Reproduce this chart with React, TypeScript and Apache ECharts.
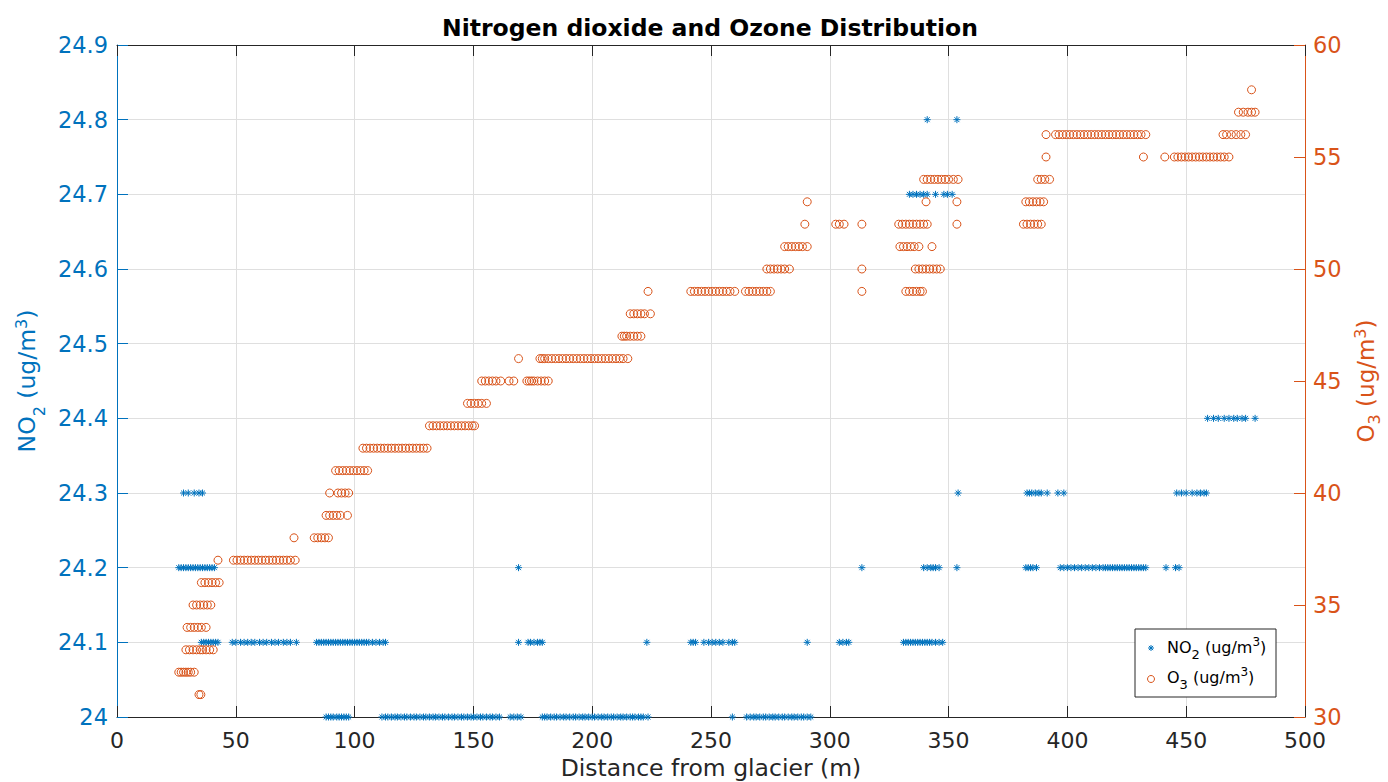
import React, { useEffect, useRef } from 'react';
import * as echarts from 'echarts';

// ---------- DATA (distance in m for each measured level) ----------
const no2At240 = [88, 89, 90, 91, 92.5, 93.5, 94.5, 95.5, 96.5, 97.5, 111.5, 113, 114, 115.5, 117, 118, 119.5, 121, 122, 123.5, 125, 126, 127.5, 129, 130, 131.5, 133, 134, 135.5, 137, 138, 139.5, 141, 142, 143.5, 145, 146, 147.5, 149, 150, 151.5, 153, 154, 155.5, 157, 158, 159.5, 161, 165.5, 167, 168.5, 170, 179, 180, 181, 182.5, 184, 185, 186.5, 188, 189, 190.5, 192, 193, 194.5, 196, 197, 198.5, 200, 201, 202.5, 204, 205, 206.5, 208, 209, 210.5, 212, 213, 214.5, 216, 217, 218, 219.5, 220.5, 221.5, 223.5, 259, 265, 266.5, 268, 269, 270.5, 272, 273, 274.5, 276, 277, 278.5, 280, 281, 282.5, 284, 285, 286.5, 288, 289, 290.5, 292];
const no2At241 = [35.5, 36.5, 37.5, 38.5, 39.5, 40.5, 41.5, 42.5, 48.5, 50, 52, 53.5, 55, 56.5, 58, 60, 61.5, 63, 65, 66.5, 68, 70, 71.5, 73, 75.5, 84, 85, 86, 87, 88, 89, 90, 91, 92, 93, 94, 95, 96, 97, 98, 99, 100, 101, 102, 103, 104, 105, 106, 107.5, 109, 110.5, 112, 113, 169, 173, 174, 175.5, 177, 178, 179, 223, 241.5, 242.5, 243.5, 247, 249, 250.5, 252, 253.5, 255, 257.5, 259, 260, 290.5, 304, 305.5, 307, 308, 331, 332, 333, 334, 335, 336, 337, 338, 339, 340, 341, 342, 343, 344.5, 346, 347.5];
const no2At242 = [26, 27, 28, 29, 30, 31, 32, 33, 34, 35, 36, 37, 38, 39, 40, 41, 169, 313.5, 339.5, 341, 342.5, 343.5, 344.5, 346, 353.5, 382.5, 383.5, 384.5, 385.5, 387, 397, 398.5, 400, 401.5, 403, 404.5, 406, 407.5, 409, 410.5, 412, 413.5, 415, 416, 417, 418, 419, 420, 421, 422, 423, 424, 425, 426, 427, 428, 429, 430, 431, 432, 433, 441.5, 445.5, 447];
const no2At243 = [28, 30, 32.5, 34.5, 36, 354, 383, 384, 385, 386.5, 388, 389, 391.5, 396, 398.5, 446, 448, 450, 452.5, 454.5, 456, 457.5, 458.5];
const no2At244 = [459, 461.5, 463.5, 466, 468, 470, 471.5, 473.5, 475, 479];
const no2At247 = [333.5, 335, 336.5, 338, 339.5, 341, 344.5, 348, 349.5, 351.5];
const no2At248 = [341, 353.5];

const o3At31 = [34.5, 35.3];
const o3At32 = [26, 27, 28, 29, 30, 31, 32.5];
const o3At33 = [29, 30.5, 32, 33.5, 35, 36, 37.5, 39, 40.5];
const o3At34 = [29.5, 31, 32.5, 34, 35.5, 37.5];
const o3At35 = [32, 33.5, 35, 36.5, 38, 39.5];
const o3At36 = [35.5, 37, 38.5, 40, 41.5, 43];
const o3At37 = [42.5, 49, 50.5, 52, 53.5, 55, 56.5, 58, 59.5, 61, 62.5, 64, 65.5, 67, 68.5, 70, 71.5, 73, 75];
const o3At38 = [74.5, 83, 84.5, 86, 87.5, 89];
const o3At39 = [88, 89.5, 91, 92.5, 94, 97];
const o3At40 = [89.5, 93, 94.5, 96, 97.5];
const o3At41 = [92, 93.5, 95, 96.5, 98, 99.5, 101, 102.5, 104, 105.5];
const o3At42 = [103.5, 105, 106.5, 108, 109.5, 111, 112.5, 114, 115.5, 117, 118.5, 120, 121.5, 123, 124.5, 126, 127.5, 129, 130.5];
const o3At43 = [131.5, 133, 134.5, 136, 137.5, 139, 140.5, 142, 143.5, 145, 146.5, 148, 149.5, 150.5];
const o3At44 = [147.5, 149, 150.5, 152, 153.5, 155.5];
const o3At45 = [153.5, 155, 156.5, 158, 159.5, 161.5, 165, 167, 172.5, 173.5, 174.5, 175.5, 177, 178.5, 180, 181.5];
const o3At46 = [169, 178, 179, 180, 181.5, 183, 184.5, 186, 187.5, 189, 190.5, 192, 193.5, 195, 196.5, 198, 199.5, 201, 202.5, 204, 205.5, 207, 208.5, 210, 211.5, 213, 215];
const o3At47 = [212.5, 213.5, 214.5, 216, 217.5, 219, 220.5];
const o3At48 = [216, 217.5, 219, 220.5, 222, 224.5];
const o3At49 = [223.5, 241.5, 243, 244.5, 246, 247.5, 249, 250.5, 252, 253.5, 255, 256.5, 258, 260, 264.5, 266, 267.5, 269, 270.5, 272, 273.5, 275, 313.5, 332, 333.5, 335, 336.5, 338, 339];
const o3At50 = [273.5, 275, 276.5, 278, 279.5, 281, 283, 313.5, 336, 337.5, 339, 340.5, 342, 343.5, 345, 346.5];
const o3At51 = [281, 282.5, 284, 285.5, 287, 288.5, 290.5, 329.5, 331, 332.5, 334, 335.5, 337.5, 343];
const o3At52 = [289.5, 302.5, 304, 306, 313.5, 329, 330.5, 332, 333.5, 335, 336.5, 338, 339.5, 341, 353.5, 381.5, 383, 384.5, 386, 387.5, 389];
const o3At53 = [290.5, 340.5, 353.5, 382.5, 384, 385.5, 387, 388.5, 390];
const o3At54 = [339.5, 341, 342.5, 344, 345.5, 347, 348.5, 350, 352, 354, 387.5, 389, 390.5, 392.5];
const o3At55 = [391, 432, 441, 445, 446.5, 448, 449.5, 451, 452.5, 454, 455.5, 457, 458.5, 460, 461.5, 463, 464.5, 466, 468];
const o3At56 = [391, 395, 396.5, 398, 399.5, 401, 402.5, 404, 405.5, 407, 408.5, 410, 411.5, 413, 414.5, 416, 417.5, 419, 420.5, 422, 423.5, 425, 426.5, 428, 429.5, 431, 433, 465.5, 467, 469, 471, 473, 475];
const o3At57 = [472, 474, 476, 477.5, 479];
const o3At58 = [477.5];

const no2Rows: [number, number[]][] = [
  [24.0, no2At240], [24.1, no2At241], [24.2, no2At242], [24.3, no2At243],
  [24.4, no2At244], [24.7, no2At247], [24.8, no2At248],
];
const o3Rows: [number, number[]][] = [
  [31, o3At31], [32, o3At32], [33, o3At33], [34, o3At34], [35, o3At35], [36, o3At36],
  [37, o3At37], [38, o3At38], [39, o3At39], [40, o3At40], [41, o3At41], [42, o3At42],
  [43, o3At43], [44, o3At44], [45, o3At45], [46, o3At46], [47, o3At47], [48, o3At48],
  [49, o3At49], [50, o3At50], [51, o3At51], [52, o3At52], [53, o3At53], [54, o3At54],
  [55, o3At55], [56, o3At56], [57, o3At57], [58, o3At58],
];

// ---------- STYLE ----------
const BLUE = '#0072BD';
const ORANGE = '#D95319';
const DARK = '#262626';
const GRID = '#dfdfdf';
const FONT = 'DejaVu Sans';
const ASTERISK = 'path://M5 0 L5 10 M0 5 L10 5 M1.5 1.5 L8.5 8.5 M1.5 8.5 L8.5 1.5';

function toPoints(rows: [number, number[]][]) {
  const out: number[][] = [];
  rows.forEach(([level, xs]) => xs.forEach((x) => out.push([x, level])));
  return out;
}

function nameRich(color: string, size: number, subPad: number) {
  return {
    m: { fontSize: size, fontFamily: FONT, color, verticalAlign: 'middle' },
    sub: { fontSize: 16, fontFamily: FONT, color, verticalAlign: 'middle', padding: [subPad, 0, 0, 0] },
    sup: { fontSize: 16, fontFamily: FONT, color, verticalAlign: 'middle', padding: [0, 0, 11, 0] },
  };
}

function legendRich() {
  return {
    m: { fontSize: 16, fontFamily: FONT, color: '#000', verticalAlign: 'middle' },
    sub: { fontSize: 13, fontFamily: FONT, color: '#000', verticalAlign: 'middle', padding: [14, 0, 0, 0] },
    sup: { fontSize: 12, fontFamily: FONT, color: '#000', verticalAlign: 'middle', padding: [0, 0, 10, 0] },
  };
}

export default function App() {
  const ref = useRef<HTMLDivElement>(null);
  useEffect(() => {
    if (!ref.current) return;
    document.body.style.margin = '0';
    const chart = echarts.init(ref.current, undefined, { renderer: 'svg' });
    const lx = 1135, ly = 629;
    const ast = (cx: number, cy: number, r: number) => [
      [cx - r, cy, cx + r, cy], [cx, cy - r, cx, cy + r],
      [cx - r * 0.7, cy - r * 0.7, cx + r * 0.7, cy + r * 0.7],
      [cx - r * 0.7, cy + r * 0.7, cx + r * 0.7, cy - r * 0.7],
    ].map((s) => ({ type: 'line', z: 102, shape: { x1: s[0], y1: s[1], x2: s[2], y2: s[3] }, style: { stroke: BLUE, lineWidth: 1 } }));

    chart.setOption({
      animation: false,
      backgroundColor: '#fff',
      grid: { left: 117, right: 83, top: 45, bottom: 65, containLabel: false, outerBoundsMode: 'none' },
      xAxis: [
        {
          type: 'value', min: 0, max: 500, interval: 50, position: 'bottom',
          axisLine: { show: true, onZero: false, lineStyle: { color: DARK, width: 1 } },
          axisTick: { show: true, inside: true, length: 11, lineStyle: { color: DARK } },
          axisLabel: { color: DARK, fontSize: 22, fontFamily: FONT, margin: 12 },
          splitLine: { show: true, lineStyle: { color: GRID, width: 1 } },
          name: 'Distance from glacier (m)', nameLocation: 'middle', nameGap: 38,
          nameTextStyle: { color: DARK, fontSize: 23.5, fontFamily: FONT },
        },
        {
          type: 'value', min: 0, max: 500, interval: 50, position: 'top',
          axisLine: { show: true, onZero: false, lineStyle: { color: DARK, width: 1 } },
          axisTick: { show: true, inside: true, length: 11, lineStyle: { color: DARK } },
          axisLabel: { show: false }, splitLine: { show: false },
        },
      ],
      yAxis: [
        {
          type: 'value', min: 24, max: 24.9, interval: 0.1, position: 'left',
          axisLine: { show: true, onZero: false, lineStyle: { color: BLUE, width: 1 } },
          axisTick: { show: true, inside: true, length: 11, lineStyle: { color: BLUE } },
          axisLabel: { color: BLUE, fontSize: 22.5, fontFamily: FONT, margin: 9 },
          splitLine: { show: true, lineStyle: { color: GRID, width: 1 } },
          name: '{m|NO}{sub|2}{m| (ug/m}{sup|3}{m|)}', nameLocation: 'middle', nameRotate: 90, nameGap: 70,
          nameTextStyle: { color: BLUE, fontSize: 23.5, fontFamily: FONT, rich: nameRich(BLUE, 23.5, 24) },
        },
        {
          type: 'value', min: 30, max: 60, interval: 5, position: 'right',
          axisLine: { show: true, onZero: false, lineStyle: { color: ORANGE, width: 1 } },
          axisTick: { show: true, inside: true, length: 11, lineStyle: { color: ORANGE } },
          axisLabel: { color: ORANGE, fontSize: 22.5, fontFamily: FONT, margin: 8 },
          splitLine: { show: false },
          name: '{m|O}{sub|3}{m| (ug/m}{sup|3}{m|)}', nameLocation: 'middle', nameRotate: 90, nameGap: 45,
          nameTextStyle: { color: ORANGE, fontSize: 23, fontFamily: FONT, rich: nameRich(ORANGE, 23, 16) },
        },
      ],
      series: [
        {
          type: 'scatter', name: 'NO2', xAxisIndex: 0, yAxisIndex: 0, data: toPoints(no2Rows),
          symbol: ASTERISK, symbolSize: 7, silent: true,
          itemStyle: { color: 'rgba(0,0,0,0)', borderColor: BLUE, borderWidth: 1, opacity: 1 },
        },
        {
          type: 'scatter', name: 'O3', xAxisIndex: 0, yAxisIndex: 1, data: toPoints(o3Rows),
          symbol: 'circle', symbolSize: 8, silent: true,
          itemStyle: { color: 'rgba(0,0,0,0)', borderColor: ORANGE, borderWidth: 1, opacity: 1 },
        },
      ],
      graphic: [
        {
          type: 'text', x: 710, y: 28,
          style: { text: 'Nitrogen dioxide and Ozone Distribution', fill: '#000', fontSize: 23.5, fontWeight: 'bold', fontFamily: FONT, align: 'center', verticalAlign: 'middle' },
        },
        {
          type: 'rect', shape: { x: lx, y: ly, width: 141, height: 68 },
          style: { fill: '#fff', stroke: DARK, lineWidth: 1 }, z: 100,
        },
        { type: 'group', z: 101, children: ast(lx + 16, ly + 19, 3) },
        {
          type: 'circle', z: 101, shape: { cx: lx + 16, cy: ly + 50, r: 3.5 },
          style: { fill: 'none', stroke: ORANGE, lineWidth: 1 },
        },
        {
          type: 'text', z: 101, x: lx + 32, y: ly + 18,
          style: { text: '{m|NO}{sub|2}{m| (ug/m}{sup|3}{m|)}', rich: legendRich(), align: 'left', verticalAlign: 'middle' },
        },
        {
          type: 'text', z: 101, x: lx + 32, y: ly + 48,
          style: { text: '{m|O}{sub|3}{m| (ug/m}{sup|3}{m|)}', rich: legendRich(), align: 'left', verticalAlign: 'middle' },
        },
      ],
    });
    return () => chart.dispose();
  }, []);
  return <div ref={ref} style={{ width: 1388, height: 782 }} />;
}
